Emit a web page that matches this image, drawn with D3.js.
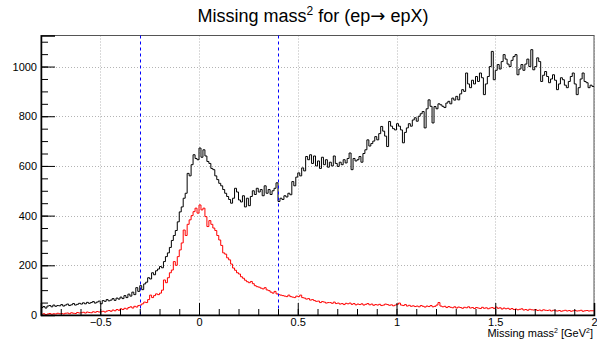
<!DOCTYPE html>
<html>
<head>
<meta charset="utf-8">
<script src="https://cdn.jsdelivr.net/npm/d3@7"></script>
<style>
  body { margin: 0; background: #fff; }
  svg { display: block; font-family: "Liberation Sans", Arial, sans-serif; }
</style>
</head>
<body>
<svg id="chart" width="597" height="341"></svg>
<script>
// histogram binning: 280 bins of 0.01 from -0.8 to 2
var xMin = -0.8, xMax = 2.0, binWidth = 0.01;

// all events (black)
var allCounts = [
  30, 34, 28, 36, 38, 33, 40, 35, 38, 37,
  42, 36, 40, 44, 38, 41, 46, 40, 43, 47,
  44, 49, 45, 51, 47, 50, 54, 48, 52, 56,
  45, 58, 55, 62, 57, 60, 66, 59, 68, 64,
  72, 66, 78, 70, 84, 76, 92, 82, 110, 95,
  118, 102, 125, 132, 150, 145, 170, 162, 178, 185,
  195, 190, 215, 235, 250, 272, 300, 320, 340, 375,
  415, 435, 470, 490, 570, 560, 605, 645, 630, 625,
  672, 635, 665, 640, 618, 610, 590, 585, 560, 545,
  530, 520, 505, 490, 477, 465, 450, 470, 510, 495,
  463, 455, 480, 435, 470, 440, 477, 500, 485, 510,
  495, 505, 480, 520, 490, 505, 485, 500, 510, 532,
  457, 470, 465, 480, 475, 490, 484, 537, 520, 555,
  572, 560, 592, 580, 638, 625, 645, 610, 640, 600,
  620, 590, 635, 605, 625, 595, 615, 600, 640, 610,
  598, 615, 605, 625, 612, 630, 652, 585, 630, 620,
  625, 638, 615, 650, 665, 705, 680, 690, 700, 718,
  705, 730, 759, 740, 720, 678, 779, 760, 750, 745,
  770, 760, 745, 693, 735, 753, 770, 760, 785, 794,
  780, 800, 810, 819, 753, 830, 866, 840, 773, 839,
  830, 850, 846, 840, 835, 853, 860, 850, 873, 865,
  880, 866, 890, 907, 900, 974, 930, 915, 945, 930,
  960, 940, 974, 955, 887, 930, 960, 1000, 1061, 947,
  985, 1008, 990, 1020, 1048, 1030, 1010, 1000, 1025, 1040,
  1048, 967, 990, 1008, 985, 1010, 1030, 1000, 1068, 987,
  1000, 1035, 1020, 940, 965, 980, 960, 935, 950, 967,
  945, 907, 930, 955, 947, 925, 915, 940, 960, 974,
  930, 887, 915, 950, 974, 940, 935, 915, 925, 920
];

// selected events (red)
var selCounts = [
  3, 5, 2, 4, 6, 3, 5, 4, 7, 5,
  6, 4, 7, 8, 5, 9, 7, 6, 10, 8,
  9, 11, 8, 12, 10, 9, 13, 11, 14, 12,
  13, 15, 12, 16, 18, 15, 20, 17, 22, 19,
  25, 22, 27, 24, 30, 33, 28, 35, 32, 38,
  40, 45, 52, 50, 62, 80, 70, 78, 85, 82,
  88, 100, 141, 130, 150, 170, 181, 215, 200, 235,
  262, 290, 342, 320, 365, 383, 400, 416, 430, 410,
  443, 423, 430, 396, 356, 380, 365, 350, 340, 320,
  302, 280, 250, 245, 230, 222, 205, 189, 180, 170,
  165, 154, 148, 140, 134, 130, 135, 126, 118, 114,
  112, 108, 105, 110, 101, 98, 92, 88, 95, 85,
  82, 80, 78, 76, 74, 80, 74, 72, 70, 76,
  74, 80, 70, 68, 64, 66, 60, 62, 58, 55,
  56, 50, 54, 52, 48, 50, 50, 47, 52, 46,
  48, 44, 46, 42, 47, 45, 48, 43, 46, 41,
  44, 42, 45, 40, 43, 46, 41, 44, 39, 42,
  40, 43, 38, 40, 44, 42, 39, 41, 37, 40,
  43, 48, 40, 38, 42, 36, 39, 35, 37, 34,
  36, 33, 38, 35, 32, 36, 34, 38, 33, 35,
  40, 50, 36, 33, 35, 30, 34, 31, 29, 33,
  28, 32, 30, 27, 31, 29, 33, 28, 30, 26,
  30, 28, 26, 31, 27, 29, 25, 28, 30, 26,
  32, 27, 29, 24, 28, 25, 27, 23, 26, 22,
  24, 21, 23, 25, 20, 22, 19, 23, 21, 20,
  22, 18, 20, 17, 21, 19, 18, 20, 16, 19,
  17, 16, 18, 15, 17, 19, 16, 18, 15, 17,
  18, 16, 17, 19, 15, 17, 18, 16, 17, 17
];

var xMajorTicks = [-0.5, 0, 0.5, 1, 1.5, 2];
var yMajorTicks = [0, 200, 400, 600, 800, 1000];
var cutLines = [-0.3, 0.4];
var yMax = 1125;

(function() {
    var svg = d3.select('#chart');
    var pL = 41, pR = 594, pT = 35.5, pB = 315;

    var x = d3.scaleLinear().domain([xMin, xMax]).range([pL, pR]);
    var y = d3.scaleLinear().domain([0, yMax]).range([pB, pT]);

    // grid
    var grid = svg.append('g').attr('stroke', '#b4b4b4').attr('stroke-dasharray', '1,2');
    xMajorTicks.forEach(function(t) {
        grid.append('line').attr('x1', Math.round(x(t)) + 0.5).attr('x2', Math.round(x(t)) + 0.5)
            .attr('y1', pT).attr('y2', pB);
    });
    yMajorTicks.slice(1).forEach(function(t) {
        grid.append('line').attr('y1', Math.round(y(t)) + 0.5).attr('y2', Math.round(y(t)) + 0.5)
            .attr('x1', pL).attr('x2', pR);
    });

    // frame
    svg.append('rect')
        .attr('x', pL).attr('y', pT)
        .attr('width', pR - pL).attr('height', pB - pT)
        .attr('fill', 'none').attr('stroke', '#555').attr('stroke-width', 1);

    // histograms
    function histPath(counts) {
        var pts = counts.map(function(c, i) { return [xMin + i * binWidth, c]; });
        pts.push([xMax, counts[counts.length - 1]]);
        return d3.line()
            .x(function(d) { return x(d[0]); })
            .y(function(d) { return y(d[1]); })
            .curve(d3.curveStepAfter)(pts);
    }

    svg.append('path').attr('d', histPath(selCounts))
        .attr('fill', 'none').attr('stroke', '#ff0000').attr('stroke-width', 1);
    svg.append('path').attr('d', histPath(allCounts))
        .attr('fill', 'none').attr('stroke', '#000').attr('stroke-width', 1);

    // cut lines
    svg.append('g').selectAll('path.cut')
        .data(cutLines)
        .enter().append('path')
        .attr('class', 'cut')
        .attr('d', function(c) {
            var px = Math.round(x(c)) + 0.5;
            return 'M' + px + ',' + pT + 'V' + pB;
        })
        .style('stroke', '#0000ff').style('stroke-width', '1px')
        .style('stroke-dasharray', '3,3').style('fill', 'none');

    // y axis
    var yAxis = d3.axisLeft(y).tickValues(yMajorTicks).tickSize(-14).tickPadding(4)
        .tickFormat(d3.format('d'));
    var yMinor = d3.axisLeft(y).tickValues(d3.range(0, yMax, 50)).tickSize(-7).tickFormat('');
    svg.append('g').attr('transform', 'translate(' + pL + ',0)').call(yMinor)
        .select('.domain').remove();
    var gy = svg.append('g').attr('transform', 'translate(' + pL + ',0)').call(yAxis);
    gy.select('.domain').attr('stroke-width', 1.5);
    gy.selectAll('text').attr('font-size', 11).attr('fill', '#000');

    // x axis
    var xAxis = d3.axisBottom(x).tickValues(xMajorTicks).tickSize(-12).tickPadding(3)
        .tickFormat(d3.format('~g'));
    var xMinor = d3.axisBottom(x).tickValues(d3.range(-7, 20).map(function(k) { return k / 10; }))
        .tickSize(-6).tickFormat('');
    svg.append('g').attr('transform', 'translate(0,' + pB + ')').call(xMinor)
        .select('.domain').remove();
    var gx = svg.append('g').attr('transform', 'translate(0,' + pB + ')').call(xAxis);
    gx.select('.domain').attr('stroke-width', 1.5);
    gx.selectAll('text').attr('font-size', 11).attr('fill', '#000');

    // axis title
    var xt = svg.append('text')
        .attr('x', pR - 1).attr('y', 337)
        .attr('text-anchor', 'end').attr('font-size', 11);
    xt.append('tspan').text('Missing mass');
    xt.append('tspan').attr('font-size', 7).attr('dy', -4).text('2');
    xt.append('tspan').attr('dy', 4).text(' [GeV');
    xt.append('tspan').attr('font-size', 7).attr('dy', -4).text('2');
    xt.append('tspan').attr('dy', 4).text(']');

    // title
    var title = svg.append('text')
        .attr('x', 313).attr('y', 22)
        .attr('text-anchor', 'middle').attr('font-size', 18);
    title.append('tspan').text('Missing mass');
    title.append('tspan').attr('font-size', 12).attr('dy', -7).text('2');
    title.append('tspan').attr('dy', 7).text(' for (ep');
    title.append('tspan').attr('font-family', 'DejaVu Sans').text('\u2192');
    title.append('tspan').text(' epX)');
})();
</script>
</body>
</html>
